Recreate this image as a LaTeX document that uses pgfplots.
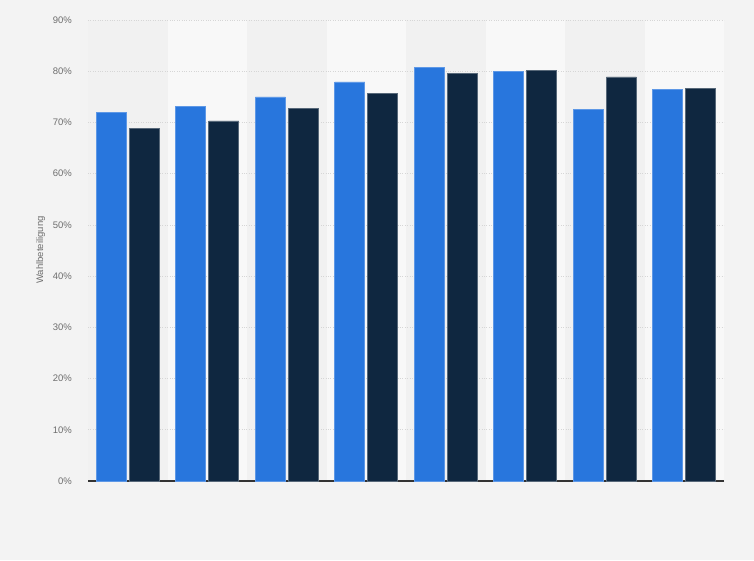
\documentclass[border=0pt]{standalone}
\usepackage{pgfplots}
\pgfplotsset{compat=1.18}
\usepackage{fontspec}
\setmainfont{Liberation Sans}
\definecolor{bgc}{HTML}{F3F3F3}
\definecolor{banddark}{HTML}{F1F1F1}
\definecolor{bandlight}{HTML}{F8F8F8}
\definecolor{sblue}{HTML}{2876DD}
\definecolor{snavy}{HTML}{0F2740}
\definecolor{txt}{HTML}{6E6E6E}
\begin{document}
\begin{tikzpicture}[x=1pt,y=1pt]
\begin{axis}[
  set layers,
  at={(88pt,79pt)}, anchor=south west,
  scale only axis, width=636pt, height=461pt,
  xmin=-0.5, xmax=7.5, ymin=0, ymax=90,
  axis x line*=bottom, axis y line*=left,
  x axis line style={draw=black!80, line width=1.3pt, -},
  y axis line style={draw=none},
  xtick=\empty,
  ytick={0,10,...,90},
  yticklabel={\pgfmathprintnumber{\tick}\%},
  major tick length=0pt,
  yticklabel style={font=\fontsize{9.5}{11}\selectfont, text=txt, inner sep=0pt, anchor=east, xshift=-16pt},
  /pgf/number format/assume math mode=true,
  ymajorgrids, grid style={dotted, black!16, line width=0.7pt},
  ybar, bar width=30pt,
  clip=false,
]
\begin{pgfonlayer}{axis background}
\fill[bgc] (rel axis cs:0,0) ++(-88pt,-79pt) rectangle ++(754pt,560pt);
\fill[banddark] (axis cs:-0.5,0) rectangle (axis cs:0.5,90);
\fill[bandlight] (axis cs:0.5,0) rectangle (axis cs:1.5,90);
\fill[banddark] (axis cs:1.5,0) rectangle (axis cs:2.5,90);
\fill[bandlight] (axis cs:2.5,0) rectangle (axis cs:3.5,90);
\fill[banddark] (axis cs:3.5,0) rectangle (axis cs:4.5,90);
\fill[bandlight] (axis cs:4.5,0) rectangle (axis cs:5.5,90);
\fill[banddark] (axis cs:5.5,0) rectangle (axis cs:6.5,90);
\fill[bandlight] (axis cs:6.5,0) rectangle (axis cs:7.5,90);
\end{pgfonlayer}
\addplot[fill=sblue, draw=sblue!75!white, line width=0.6pt, bar shift=-16.5pt] coordinates {
(0,72.0) (1,73.2) (2,75.0) (3,77.9) (4,80.7) (5,79.9) (6,72.5) (7,76.4)};
\addplot[fill=snavy, draw=snavy!70!white, line width=0.6pt, bar shift=16.5pt] coordinates {
(0,68.8) (1,70.3) (2,72.8) (3,75.7) (4,79.5) (5,80.1) (6,78.9) (7,76.6)};
\end{axis}
\node[rotate=90, text=txt, font=\fontsize{9.5}{11}\selectfont] at (40.7,310) {Wahlbeteiligung};
\end{tikzpicture}
\end{document}
